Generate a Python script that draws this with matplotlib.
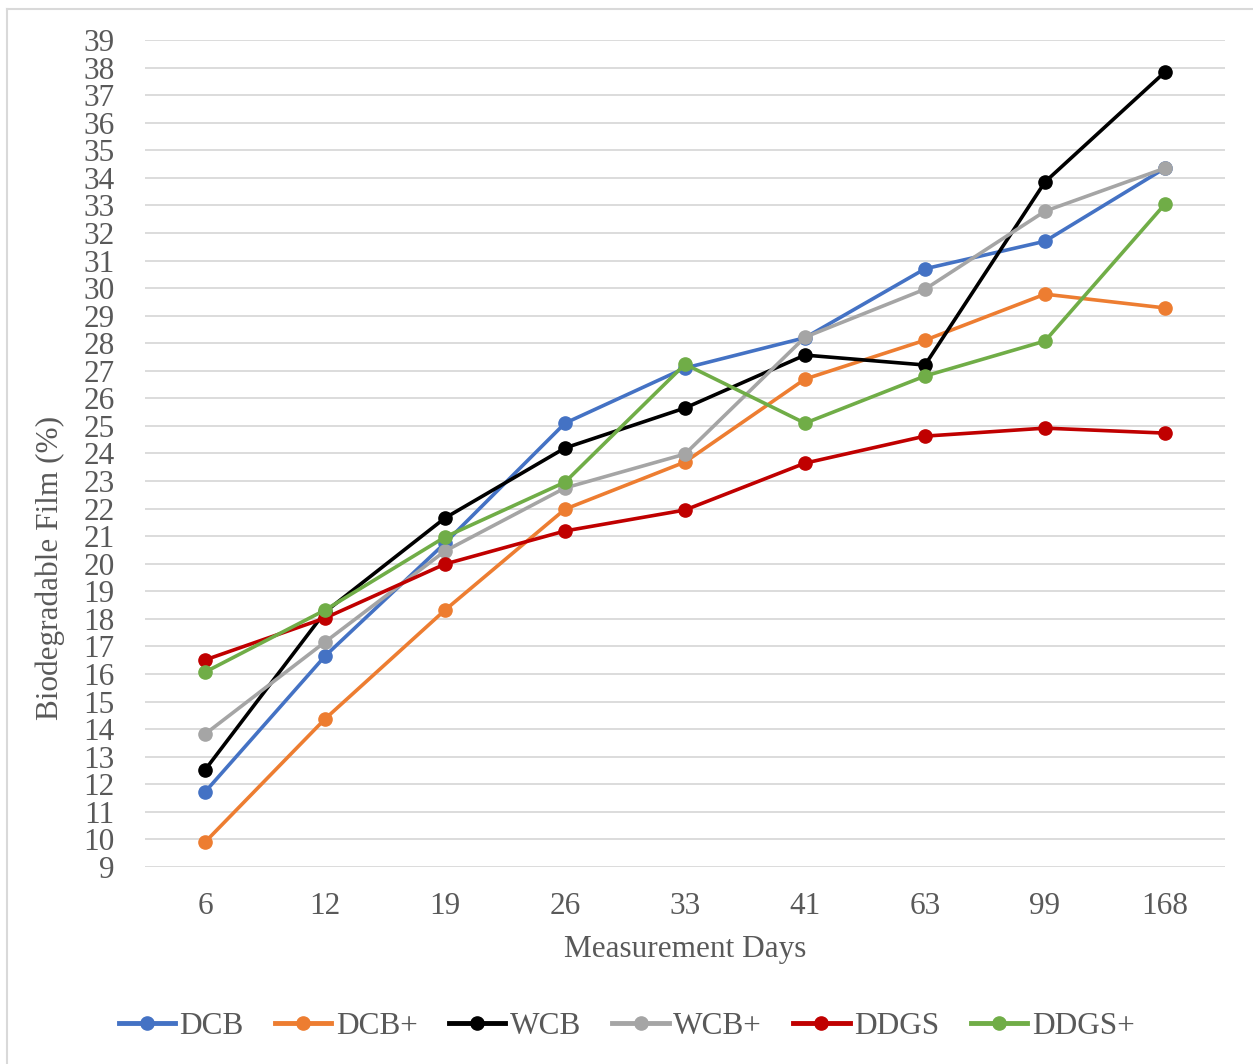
import matplotlib
matplotlib.use("Agg")
import matplotlib.pyplot as plt
from matplotlib.lines import Line2D

days = ["6", "12", "19", "26", "33", "41", "63", "99", "168"]
DCB = [11.72, 16.65, 20.75, 25.1, 27.1, 28.2, 30.7, 31.7, 34.35]
DCB_plus = [9.9, 14.37, 18.32, 21.98, 23.69, 26.7, 28.11, 29.78, 29.28]
WCB = [12.52, 18.25, 21.66, 24.2, 25.65, 27.57, 27.21, 33.85, 37.84]
WCB_plus = [13.82, 17.16, 20.46, 22.75, 23.98, 28.22, 29.96, 32.79, 34.35]
DDGS = [16.51, 18.03, 19.99, 21.19, 21.95, 23.65, 24.63, 24.92, 24.74]
DDGS_plus = [16.07, 18.32, 20.97, 22.96, 27.24, 25.1, 26.81, 28.08, 33.05]

series_names = ["DCB", "DCB+", "WCB", "WCB+", "DDGS", "DDGS+"]
series_values = [DCB, DCB_plus, WCB, WCB_plus, DDGS, DDGS_plus]
colors = ["#4472C4", "#ED7D31", "#000000", "#A5A5A5", "#C00000", "#70AD47"]
y_ticks = list(range(9, 40))

plt.rcParams['font.family'] = ['Liberation Serif', 'DejaVu Serif']
text_color = "#595959"
fs = 22.5

fig = plt.figure(figsize=(12.53, 10.64), dpi=100)
ax = fig.add_axes([145/1253, 1-867/1064, 1080/1253, 827/1064])

x = list(range(len(days)))
for name, vals, c in zip(series_names, series_values, colors):
    ax.plot(x, vals, color=c, lw=2.6, marker='o', markersize=9.5,
            markeredgecolor=c, markerfacecolor=c, label=name, zorder=3)

ax.set_xlim(-0.5, len(days) - 0.5)
ax.set_ylim(9, 39)
ax.set_xticks(x)
ax.set_xticklabels(days)
ax.set_yticks(y_ticks)
ax.tick_params(axis='both', length=0, labelsize=fs, colors=text_color)
ax.tick_params(axis='x', pad=18)
ax.tick_params(axis='y', pad=22)
ax.grid(axis='y', color='#D9D9D9', lw=1.3)
ax.set_axisbelow(True)
for s in ax.spines.values():
    s.set_visible(False)

ax.set_xlabel("Measurement Days", fontsize=fs, color=text_color, labelpad=10)
ax.set_ylabel("Biodegradable Film (%)", fontsize=fs, color=text_color, labelpad=8)
ax.yaxis.set_label_coords(-0.074, 1-(568-40)/827)

handles = [Line2D([0], [0], color=c, lw=3.5, marker='o', markersize=9.5) for c in colors]
fig.legend(handles, series_names, loc='center', bbox_to_anchor=(0.5, 1-1026/1064),
           ncol=6, frameon=False, fontsize=fs, labelcolor=text_color,
           handlelength=1.8, handletextpad=0.15, columnspacing=1.0)

# light border on left and top
fig.add_artist(Line2D([7/1253, 7/1253], [0, 1-9/1064], color='#D9D9D9', lw=1.5,
                      transform=fig.transFigure))
fig.add_artist(Line2D([7/1253, 1], [1-9/1064, 1-9/1064], color='#D9D9D9', lw=1.5,
                      transform=fig.transFigure))

fig.savefig("out.png", dpi=100)
